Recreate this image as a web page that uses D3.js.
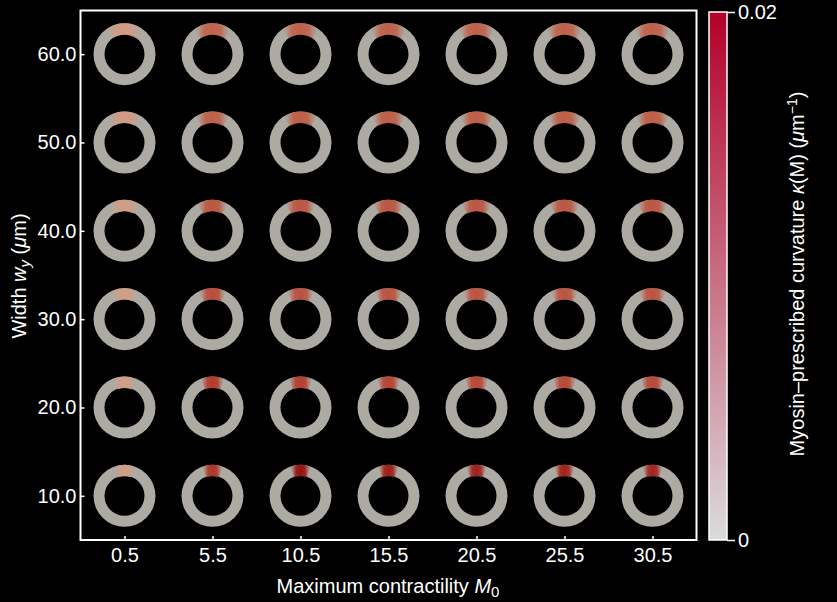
<!DOCTYPE html>
<meta charset="utf-8">
<script src="https://d3js.org/d3.v7.min.js"></script>
<style>
  body { margin: 0; background: #000; }
  text { font-family: "Liberation Sans", Arial, sans-serif; fill: #fff; }
</style>
<div id="my_dataviz"></div>
<script>

// grid of simulations
var contractility = [0.5, 5.5, 10.5, 15.5, 20.5, 25.5, 30.5];
var widths = [10, 20, 30, 40, 50, 60];

// peak myosin-prescribed curvature at the top of each ring (um^-1), one array per width
var kappaW10 = [0.0038, 0.0145, 0.0180, 0.0168, 0.0165, 0.0163, 0.0162];
var kappaW20 = [0.0038, 0.0140, 0.0135, 0.0130, 0.0127, 0.0126, 0.0125];
var kappaW30 = [0.0038, 0.0122, 0.0118, 0.0116, 0.0115, 0.0115, 0.0115];
var kappaW40 = [0.0038, 0.0112, 0.0113, 0.0113, 0.0113, 0.0113, 0.0113];
var kappaW50 = [0.0042, 0.0104, 0.0106, 0.0106, 0.0106, 0.0106, 0.0106];
var kappaW60 = [0.0042, 0.0100, 0.0103, 0.0103, 0.0103, 0.0103, 0.0103];
var kappaRows = [kappaW10, kappaW20, kappaW30, kappaW40, kappaW50, kappaW60];

// colorbar
var cbarTicks = [0, 0.02];

var W = 837, H = 602;

var svg = d3.select("#my_dataviz")
  .append("svg")
    .attr("width", W)
    .attr("height", H)
    .style("background", "#000");

var x = d3.scaleLinear().domain([-2, 33]).range([80.5, 696.5]);
var y = d3.scaleLinear().domain([5, 65]).range([540, 10]);

// rings
var rOut = 31, rIn = 20;
var ringColor = d3.scaleLinear()
  .domain([0, 0.004, 0.010, 0.014, 0.018])
  .range(["#adaaa3", "#d29d86", "#c0644c", "#b33a2c", "#951212"]);
var spread = d3.scaleLinear().domain([10, 60]).range([19, 36]);

var defs = svg.append("defs");
var ring = d3.arc().innerRadius(rIn).outerRadius(rOut).startAngle(0).endAngle(2 * Math.PI);
var patch = d3.arc().innerRadius(rIn - 0.5).outerRadius(rOut);

var cells = [];
widths.forEach(function(w, j) {
  contractility.forEach(function(m, i) {
    cells.push({m: m, w: w, k: kappaRows[j][i], id: "p" + i + "_" + j});
  });
});

cells.forEach(function(d) {
  var g = defs.append("linearGradient").attr("id", d.id);
  var c = ringColor(d.k);
  [[0, 0], [0.14, 0.35], [0.28, 0.9], [0.5, 1], [0.72, 0.9], [0.86, 0.35], [1, 0]].forEach(function(s) {
    g.append("stop").attr("offset", s[0]).attr("stop-color", c).attr("stop-opacity", s[1]);
  });
});

var rings = svg.append("g").selectAll("g")
  .data(cells)
  .join("g")
    .attr("transform", function(d) { return "translate(" + x(d.m) + "," + y(d.w) + ")"; });

rings.append("path")
  .attr("d", ring)
  .attr("fill", "#adaaa3");

rings.append("path")
  .attr("d", function(d) {
    var a = spread(d.w) * Math.PI / 180;
    return patch({startAngle: -a, endAngle: a});
  })
  .attr("fill", function(d) { return "url(#" + d.id + ")"; });

// axes
var xAxis = svg.append("g")
  .attr("transform", "translate(0,540)")
  .call(d3.axisBottom(x).tickValues(contractility).tickSizeInner(-4).tickSizeOuter(0).tickPadding(8)
    .tickFormat(d3.format(".1f")));
var yAxis = svg.append("g")
  .attr("transform", "translate(80.5,0)")
  .call(d3.axisLeft(y).tickValues(widths).tickSizeInner(-4).tickSizeOuter(0).tickPadding(4)
    .tickFormat(d3.format(".1f")));
[xAxis, yAxis].forEach(function(a) {
  a.select(".domain").remove();
  a.selectAll("line").attr("stroke", "#fff").attr("stroke-width", 1.5);
  a.selectAll("text").style("font-size", "20px").attr("fill", "#fff");
});

svg.append("rect")
  .attr("x", 80.5).attr("y", 10.5)
  .attr("width", 616).attr("height", 529.5)
  .attr("fill", "none")
  .attr("stroke", "#fff")
  .attr("stroke-width", 2);

// axis titles
var xt = svg.append("text")
  .attr("x", 388).attr("y", 593)
  .attr("text-anchor", "middle")
  .style("font-size", "20px");
xt.append("tspan").text("Maximum contractility ");
xt.append("tspan").style("font-style", "italic").text("M");
xt.append("tspan").attr("dy", 4).style("font-size", "15px").text("0");

var yt = svg.append("text")
  .attr("transform", "translate(26,276) rotate(-90)")
  .attr("text-anchor", "middle")
  .style("font-size", "20px");
yt.append("tspan").text("Width ");
yt.append("tspan").style("font-style", "italic").text("w");
yt.append("tspan").attr("dy", 4).style("font-size", "15px").style("font-style", "italic").text("y");
yt.append("tspan").attr("dy", -4).text(" (");
yt.append("tspan").style("font-style", "italic").text("μ");
yt.append("tspan").text("m)");

// colorbar
var cb = d3.scaleLinear().domain([0, 0.02]).range([540, 12]);
var cbColor = d3.interpolateRgb("#dcdbdc", "#b4002a");
var cg = defs.append("linearGradient").attr("id", "cbar")
  .attr("x1", 0).attr("y1", 1).attr("x2", 0).attr("y2", 0);
d3.range(0, 1.01, 0.1).forEach(function(t) {
  cg.append("stop").attr("offset", t).attr("stop-color", cbColor(t));
});
svg.append("rect")
  .attr("x", 709).attr("y", cb(0.02))
  .attr("width", 18).attr("height", cb(0) - cb(0.02))
  .attr("fill", "url(#cbar)")
  .attr("stroke", "#fff")
  .attr("stroke-width", 1.5);

var cAxis = svg.append("g")
  .attr("transform", "translate(727,0)")
  .call(d3.axisRight(cb).tickValues(cbarTicks).tickSize(8).tickPadding(3)
    .tickFormat(function(d) { return d === 0 ? "0" : d3.format(".2f")(d); }));
cAxis.select(".domain").remove();
cAxis.selectAll("line").attr("stroke", "#fff").attr("stroke-width", 1.5);
cAxis.selectAll("text").style("font-size", "20px").attr("fill", "#fff");

var ct = svg.append("text")
  .attr("transform", "translate(804,274) rotate(-90)")
  .attr("text-anchor", "middle")
  .style("font-size", "20px");
ct.append("tspan").text("Myosin–prescribed curvature ");
ct.append("tspan").style("font-style", "italic").text("κ");
ct.append("tspan").text("(M) (");
ct.append("tspan").style("font-style", "italic").text("μ");
ct.append("tspan").text("m");
ct.append("tspan").attr("dy", -7).style("font-size", "14px").text("−1");
ct.append("tspan").attr("dy", 7).text(")");

</script>
